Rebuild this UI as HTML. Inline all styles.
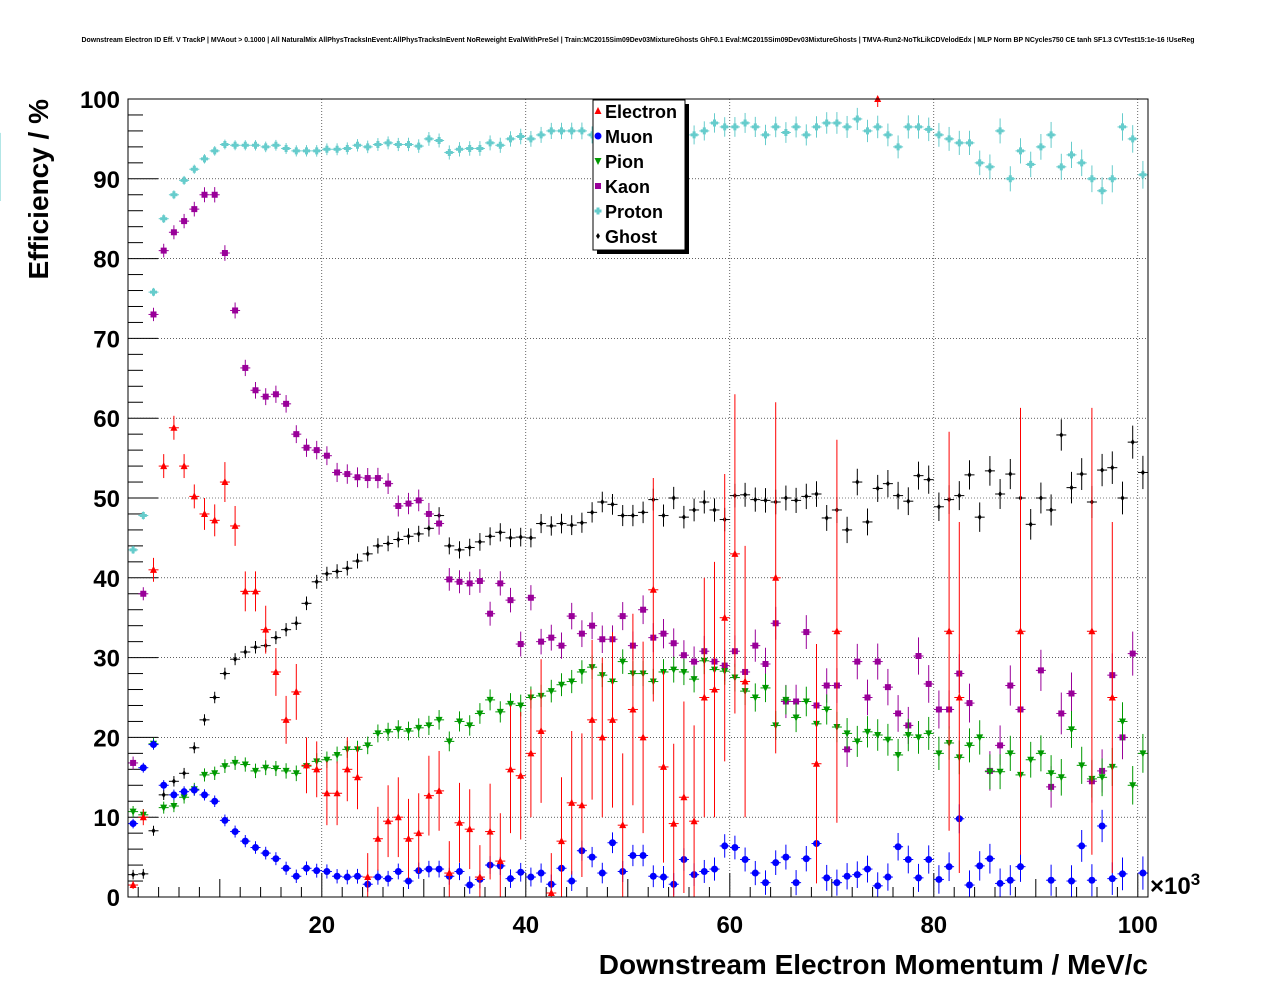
<!DOCTYPE html>
<html><head><meta charset="utf-8"><style>
body{margin:0;background:#fff;overflow:hidden;}
svg text{font-family:"Liberation Sans",Arial,sans-serif;}
</style></head><body>
<svg id="chart" width="1276" height="996" xmlns="http://www.w3.org/2000/svg">
<text x="638" y="42" font-size="6.9" font-weight="bold" text-anchor="middle">Downstream Electron ID Eff. V TrackP | MVAout &gt; 0.1000 | All NaturalMix AllPhysTracksInEvent:AllPhysTracksInEvent NoReweight EvalWithPreSel | Train:MC2015Sim09Dev03MixtureGhosts GhF0.1 Eval:MC2015Sim09Dev03MixtureGhosts | TMVA-Run2-NoTkLikCDVelodEdx | MLP Norm BP NCycles750 CE tanh SF1.3 CVTest15:1e-16 !UseReg</text>
<g id="grid"></g>
<g id="axes"></g>
<g id="series"></g>
<rect x="128" y="99" width="1020" height="798" fill="none" stroke="#000" stroke-width="1"/>
<text transform="translate(48,99) rotate(-90)" font-size="28" font-weight="bold" text-anchor="end">Efficiency / %</text>
<text x="1148" y="974" font-size="28" font-weight="bold" text-anchor="end">Downstream Electron Momentum / MeV/c</text>
<text x="1150" y="894" font-size="24" font-weight="bold">×10<tspan font-size="17" dy="-9">3</tspan></text>
<g>
<rect x="597" y="104" width="92" height="150" fill="#000"/>
<rect x="593" y="100" width="92" height="150" fill="#fff" stroke="#000"/>
<g id="legend-entries"></g>
</g>
</svg>
<script>
const xCats=[];for(let i=0;i<100;i++)xCats.push(1.5+i);
const electron=[1.5,10,41,54,58.8,54,50.2,48,47.2,52,46.5,38.3,38.3,33.5,28.2,22.2,25.7,16.5,16,13,13,16,15,2.5,7.3,9.5,10,7.3,8,12.7,13.3,3,9.3,8.5,2.5,8.2,4.5,16,15.2,18,20.8,0.5,7,11.8,11.5,22.2,20,22.2,9,23.5,20,38.5,16.3,9.2,12.5,9.5,25,26,35,43,27,null,null,40,null,null,null,16.7,null,33.3,null,null,null,100,null,null,null,null,null,null,33.3,25,null,null,null,null,null,33.3,null,null,null,null,null,null,33.3,null,25,null,null,null];
const electronErr=[0.5,1,1.5,1.5,1.5,1.5,1.5,2,2,2.5,2.5,2.5,2.5,3,3,3,3.5,3.5,3.5,4,4,4,4,3,4,4.5,5,5,5,5,5,4,5,5,4,6,6,8,8,8,9,5,8,9,9,10,10,11,9,12,12,14,12,10,12,12,15,16,18,20,17,0,0,22,0,0,0,15,0,24,0,0,0,1,0,0,0,0,0,0,25,22,0,0,0,0,0,28,0,0,0,0,0,0,28,0,22,0,0,0];
const muon=[9.2,16.2,19.1,14,12.8,13.2,13.4,12.8,12,9.6,8.2,7,6.2,5.5,4.8,3.6,2.6,3.6,3.3,3.2,2.6,2.5,2.6,1.6,2.5,2.3,3.2,2,3.3,3.5,3.5,2.6,3.2,1.5,2.2,4,3.9,2.3,3.1,2.5,3,1.6,3.6,2,5.8,5,3,6.8,3.2,5.2,5.2,2.6,2.5,1.6,4.7,2.8,3.2,3.5,6.4,6.2,4.7,3,1.8,4.3,5,1.8,4.8,6.7,2.4,1.8,2.6,2.8,3.5,1.4,2.5,6.3,4.7,2.4,4.7,2.2,3.8,9.8,1.5,3.9,4.8,1.7,2.1,3.8,null,null,2.1,null,2,6.4,2.1,8.9,2.3,2.9,null,3];
const pion=[10.7,10.3,19.2,11.2,11.4,12.5,13.5,15.3,15.5,16.4,16.8,16.6,15.8,16.2,16.1,15.8,15.5,16.4,17,17.2,17.8,18.5,18.5,19,20.5,20.7,21,20.8,21.2,21.5,22.2,19.5,22,21.5,23,24.7,23.2,24.2,24,25,25.2,25.8,26.6,27,28.2,28.8,27.8,27,29.5,28,28,27,28.2,28.5,28.2,27.3,29.6,28.5,28.3,27.5,25.8,25,26.2,21.5,24.7,22.5,24.5,21.7,23.5,21.3,20.5,19.5,20.7,20.3,19.7,17.8,20.3,20,20.5,18,19.3,17.5,19,20,15.7,15.7,18,15.3,17.2,18,15.5,15,21,16.5,14.8,15,16.3,22,14,18];
const kaon=[16.8,38,73,81,83.3,84.7,86.2,88,88,80.7,73.5,66.3,63.5,62.7,63,61.8,58,56.3,56,55.3,53.2,53,52.6,52.5,52.5,51.8,49,49.3,49.7,48,46.8,39.8,39.5,39.3,39.6,35.5,39.3,37.2,31.7,37.5,32,32.5,31.5,35.2,33,34,32.3,32.3,35.2,31.5,36,32.5,33,31.8,30.3,29.5,30.8,29.5,29,30.8,28.2,31.5,29.2,34.3,24.5,24.5,33.2,24,26.5,26.5,18.5,29.5,25,29.5,26.3,23,21.5,30.2,26.7,23.5,23.5,28,24.3,null,15.8,19,26.5,23.5,null,28.4,13.8,23,25.5,null,14.5,15.8,27.8,20,30.5,null];
const proton=[43.5,47.8,75.8,85,88,89.8,91.2,92.5,93.5,94.3,94.2,94.2,94.2,94,94.2,93.8,93.5,93.5,93.5,93.7,93.7,93.8,94.2,94,94.3,94.5,94.3,94.3,94.1,95,94.8,93.3,93.7,93.8,93.8,94.5,94.2,95,95.3,95,95.5,96,96,96,96,95.5,97,96.5,96.5,96.5,96.5,96.5,96.5,96.5,96.5,95.5,96,97,96.5,96.5,97,96.5,95.5,96.5,95.8,96.5,95.5,96.5,97,97,96.5,97.5,96,96.5,95.5,94,96.5,96.5,96.2,95.5,95,94.5,94.5,92,91.5,96,90,93.5,91.8,94,95.5,91.5,93,92,90,88.5,90,96.5,95,90.5,94,93,91,89];
const ghost=[2.8,2.9,8.3,12.8,14.5,15.5,18.7,22.2,25,28,29.8,30.7,31.3,31.5,32.5,33.5,34.3,36.8,39.5,40.5,40.8,41.2,42.1,43,44,44.3,44.8,45.2,45.5,46.2,47.8,44,43.5,43.8,44.5,45.2,45.7,45,45.1,45,46.8,46.5,46.8,46.6,46.9,48.2,49.5,49.2,47.8,47.8,48.2,49.8,47.8,50,47.6,48.5,49.5,48.5,47.3,50.3,50.4,49.8,49.7,49.5,50,49.7,50.2,50.5,47.5,48.5,46,52,47,51.2,51.8,50.3,49.6,52.8,52.3,48.9,49.8,50.3,52.9,47.6,53.4,50.5,53,50,46.7,50,48.5,57.9,51.3,53,49.5,53.5,53.8,50,57,53.2];
const xTicks=[20,40,60,80,100];
const yTicks=[0,10,20,30,40,50,60,70,80,90,100];
const legendLabels=["Electron","Muon","Pion","Kaon","Proton","Ghost"];

const X0=128,X1=1148,XMIN=1,XMAX=101,Y0=897,Y1=99,YMIN=0,YMAX=100;
const xs=v=>X0+(v-XMIN)/(XMAX-XMIN)*(X1-X0);
const ys=v=>Y0-(v-YMIN)/(YMAX-YMIN)*(Y0-Y1);
const NS="http://www.w3.org/2000/svg";
function mk(tag,attrs,parent){const e=document.createElementNS(NS,tag);for(const k in attrs)e.setAttribute(k,attrs[k]);parent.appendChild(e);return e;}
const grid=document.getElementById('grid'),axes=document.getElementById('axes'),ser=document.getElementById('series');
xTicks.forEach(t=>{const x=xs(t);
 const g=mk('line',{x1:x,x2:x,y1:Y1,y2:Y0,stroke:'#000','stroke-width':0.6,'stroke-dasharray':'1,2'},grid);
 
 mk('line',{x1:x,x2:x,y1:Y0,y2:Y0-24,stroke:'#000'},axes);
 const tl=mk('text',{x:x,y:933,'font-size':24,'font-weight':'bold','text-anchor':'middle'},axes);
 tl.textContent=t;
 });
for(let v=2;v<=100;v+=2){if(v%20===0)continue;const x=xs(v);mk('line',{x1:x,x2:x,y1:Y0,y2:Y0-(v%10===0?18:10),stroke:'#000'},axes);}
yTicks.forEach(t=>{const y=ys(t);
 if(t>0&&t<100){const g=mk('line',{x1:X0,x2:X1,y1:y,y2:y,stroke:'#000','stroke-width':0.6,'stroke-dasharray':'1,2'},grid);
 }
 mk('line',{x1:X0,x2:X0+30,y1:y,y2:y,stroke:'#000'},axes);
 const tl=mk('text',{x:120,y:y+9,'font-size':24,'font-weight':'bold','text-anchor':'end'},axes);
 tl.textContent=t;
 });
for(let v=2;v<100;v+=2){if(v%10===0)continue;const y=ys(v);mk('line',{x1:X0,x2:X0+15,y1:y,y2:y,stroke:'#000'},axes);}

function marker(kind,x,y,col,parent){
 if(kind==='tu')return mk('polygon',{points:`${x},${y-4} ${x-3.5},${y+3} ${x+3.5},${y+3}`,fill:col},parent);
 if(kind==='td')return mk('polygon',{points:`${x},${y+4} ${x-3.5},${y-3} ${x+3.5},${y-3}`,fill:col},parent);
 if(kind==='c')return mk('circle',{cx:x,cy:y,r:3.5,fill:col},parent);
 if(kind==='s')return mk('rect',{x:x-3,y:y-3,width:6,height:6,fill:col},parent);
 if(kind==='p')return mk('path',{d:`M${x-3.5},${y}h7M${x},${y-3.5}v7`,stroke:col,'stroke-width':3},parent);
 return mk('polygon',{points:`${x},${y-3} ${x+2},${y} ${x},${y+3} ${x-2},${y}`,fill:col},parent);
}
const defs=[
 {name:'proton',data:proton,err:null,e:0.5,kind:'p',col:'#66cccc'},
 {name:'ghost',data:ghost,err:null,e:0.6,kind:'d',col:'#000'},
 {name:'kaon',data:kaon,err:null,e:0.8,kind:'s',col:'#990099'},
 {name:'pion',data:pion,err:null,e:0.7,kind:'td',col:'#009900'},
 {name:'muon',data:muon,err:null,e:0.6,kind:'c',col:'#0000ff'},
 {name:'electron',data:electron,err:electronErr,e:0,kind:'tu',col:'#ff0000'}];
defs.forEach(d=>{
 const g=mk('g',{},ser);
 
 d.data.forEach((v,i)=>{if(v===null)return;
  const cx=xs(xCats[i]),cy=ys(v);
  const er=d.err?d.err[i]:d.e*(1+i/40);
  mk('line',{x1:cx-5,x2:cx+5,y1:cy,y2:cy,stroke:d.col},g);
  if(er>0)mk('line',{x1:cx,x2:cx,y1:ys(Math.min(100,v+er)),y2:ys(Math.max(0,v-er)),stroke:d.col},g);
  const m=marker(d.kind,cx,cy,d.col,g);
  
  
 });
});
const le=document.getElementById('legend-entries');
const lk=['tu','c','td','s','p','d'],lc=['#ff0000','#0000ff','#009900','#990099','#66cccc','#000'];
legendLabels.forEach((l,i)=>{const y=111+i*25;
 const g=mk('g',{},le);
 
 marker(lk[i],598,y,lc[i],g);
 const t=mk('text',{x:605,y:y+7,'font-size':18,'font-weight':'bold'},g);t.textContent=l;});
</script>
</body></html>
